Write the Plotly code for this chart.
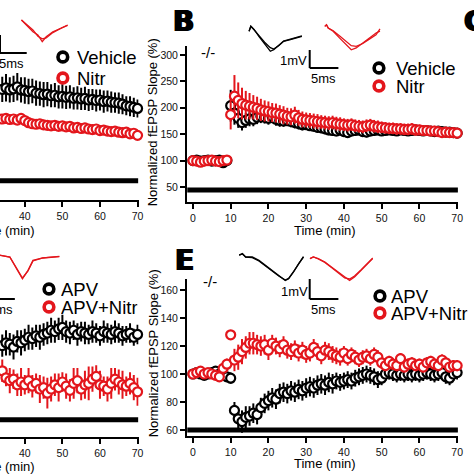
import plotly.graph_objects as go

W = H = 474
FONT = "Liberation Sans, Arial, Helvetica, sans-serif"
RED = "#e3161c"
BLK = "#000000"

# ---------------- data ----------------
time_BE = list(range(0, 71))          # min, panels B and E
time_AD = list(range(33, 71))         # min, visible part of panels A and D

# Panel B (-/-): Vehicle vs Nitr
B_vehicle = [100, 101, 99, 100, 101, 99, 100, 101, 96, 100,
             204, 190, 180, 172, 176, 179, 178, 182, 184, 182,
             180, 183, 178, 176, 175, 176, 174, 172, 170, 168,
             168, 166, 165, 163, 162, 160, 158, 157, 156, 158,
             155, 153, 156, 157, 158, 155, 154, 156, 157, 158,
             156, 157, 158, 157, 156, 158, 157, 156, 157, 158,
             157, 156, 157, 156, 155, 156, 155, 154, 154, 153, 152]
B_vehicle_err = [3, 3, 4, 3, 3, 4, 3, 3, 5, 4,
                 30, 22, 18, 15, 14, 14, 13, 13, 13, 12,
                 12, 12, 12, 12, 11, 11, 11, 11, 11, 11,
                 10, 10, 10, 10, 10, 10, 10, 10, 10, 10,
                 10, 10, 10, 10, 10, 10, 10, 10, 10, 10,
                 9, 9, 9, 9, 9, 9, 9, 9, 9, 9,
                 9, 9, 9, 9, 9, 9, 9, 9, 9, 9, 9]
B_nitr = [100, 99, 97, 99, 100, 101, 99, 98, 100, 101,
          187, 222, 214, 208, 205, 203, 201, 199, 196, 194,
          193, 191, 190, 188, 186, 184, 183, 186, 181, 178,
          177, 176, 175, 174, 173, 172, 171, 172, 170, 169,
          168, 167, 168, 166, 165, 164, 166, 167, 165, 164,
          163, 162, 161, 161, 160, 160, 159, 159, 160, 158,
          158, 157, 157, 156, 156, 155, 153, 154, 153, 153, 152]
B_nitr_err = [4, 4, 4, 4, 4, 4, 4, 4, 4, 4,
              28, 40, 34, 30, 27, 25, 23, 22, 21, 20,
              19, 18, 18, 17, 17, 16, 16, 16, 15, 15,
              14, 14, 14, 14, 13, 13, 13, 13, 13, 13,
              12, 12, 12, 12, 12, 12, 12, 12, 12, 12,
              11, 11, 11, 11, 11, 11, 11, 11, 11, 11,
              10, 10, 10, 10, 10, 10, 10, 10, 10, 10, 10]

# Panel E (-/-): APV vs APV+Nitr
E_apv = [100, 101, 100, 99, 100, 101, 102, 100, 99, 98,
         97, 74, 68, 66, 69, 70, 72, 71, 76, 79,
         81, 83, 82, 86, 87, 86, 88, 87, 89, 88,
         90, 91, 90, 92, 93, 92, 94, 93, 95, 94,
         95, 96, 95, 97, 98, 99, 100, 99, 98, 96,
         97, 100, 101, 100, 99, 100, 99, 100, 99, 100,
         99, 100, 101, 100, 99, 100, 101, 98, 97, 100, 101]
E_apv_err = [2, 2, 2, 2, 2, 2, 3, 2, 3, 3,
             4, 6, 7, 8, 8, 7, 7, 7, 7, 7,
             7, 7, 7, 7, 7, 7, 7, 7, 7, 7,
             7, 7, 7, 7, 7, 7, 7, 7, 6, 6,
             6, 6, 6, 6, 6, 6, 6, 6, 6, 6,
             5, 5, 5, 5, 5, 5, 5, 5, 5, 5,
             5, 5, 5, 5, 5, 5, 5, 5, 5, 5, 5]
E_apv_nitr = [100, 101, 102, 100, 101, 100, 99, 98, 104, 107,
              128, 110, 112, 116, 119, 122, 122, 121, 120, 121,
              117, 122, 120, 118, 121, 117, 116, 118, 115, 117,
              114, 115, 119, 116, 113, 117, 116, 114, 113, 112,
              115, 111, 114, 112, 110, 112, 113, 111, 114, 112,
              108, 106, 109, 107, 106, 111, 105, 107, 108, 106,
              107, 105, 108, 109, 107, 106, 110, 108, 105, 106, 106]
E_apv_nitr_err = [2, 2, 2, 2, 2, 2, 2, 2, 3, 4,
                  3, 8, 9, 9, 8, 8, 8, 7, 7, 7,
                  7, 6, 6, 6, 6, 6, 6, 6, 6, 6,
                  6, 6, 6, 6, 6, 6, 6, 6, 6, 6,
                  5, 5, 5, 5, 5, 5, 5, 5, 5, 5,
                  4, 4, 4, 4, 4, 4, 4, 4, 4, 4,
                  4, 4, 4, 4, 4, 4, 4, 4, 4, 4, 4]

# Panel A (visible part): Vehicle vs Nitr
A_vehicle = [233, 231, 234, 230, 232, 236, 230, 229, 227, 228,
             224, 223, 221, 222, 219, 220, 217, 218, 216, 217,
             214, 215, 213, 214, 211, 212, 210, 211, 208, 209,
             207, 206, 205, 203, 200, 199, 197, 195]
A_vehicle_err = [25, 24, 26, 24, 25, 26, 24, 25, 24, 23,
                 24, 23, 24, 23, 22, 23, 22, 23, 22, 22,
                 21, 22, 21, 22, 21, 20, 21, 20, 21, 20,
                 20, 19, 20, 19, 18, 19, 18, 17]
A_nitr = [177, 175, 176, 174, 175, 173, 176, 172, 168, 166,
          165, 166, 164, 163, 162, 163, 161, 162, 160, 161,
          158, 159, 157, 158, 156, 155, 156, 153, 154, 152,
          151, 152, 150, 149, 150, 147, 148, 144]
A_nitr_err = [6, 5, 6, 5, 6, 5, 7, 6, 5, 6,
              5, 5, 6, 5, 5, 6, 5, 5, 6, 5,
              5, 6, 5, 5, 6, 5, 5, 6, 5, 5,
              6, 5, 5, 6, 5, 5, 6, 6]

# Panel D (visible part): APV vs APV+Nitr
D_apv = [119, 121, 123, 122, 120, 124, 123, 125, 127, 126,
         128, 127, 129, 130, 132, 131, 133, 134, 131, 130,
         132, 129, 131, 130, 129, 131, 130, 128, 131, 130,
         129, 131, 130, 128, 129, 130, 127, 129]
D_apv_err = [9, 8, 9, 8, 9, 8, 9, 8, 9, 8,
             8, 9, 8, 8, 9, 8, 8, 9, 8, 8,
             7, 8, 7, 8, 7, 8, 7, 7, 8, 7,
             7, 8, 7, 7, 6, 7, 6, 7]
D_apv_nitr = [100, 103, 98, 96, 97, 93, 95, 93, 96, 92,
              94, 90, 91, 87, 90, 93, 91, 95, 92, 89,
              94, 96, 90, 93, 94, 97, 99, 93, 92, 90,
              94, 97, 95, 93, 92, 94, 91, 88]
D_apv_nitr_err = [7, 8, 6, 9, 7, 8, 10, 7, 9, 8,
                  7, 10, 8, 11, 9, 8, 10, 7, 9, 8,
                  11, 9, 8, 10, 12, 9, 8, 10, 7, 9,
                  11, 8, 9, 10, 7, 8, 9, 10]

# black drug-application bars (time span, level)
bar_time_BE = [-1.5, 70.2]
bar_time_AD = [33.0, 70.2]
bar_level_A, bar_level_B = 58, 44.5
bar_level_D, bar_level_E = 68, 60

# sample fEPSP waveforms (ms, mV)
wave_t_Bveh = [0.3, 0.6, 0.9, 1.2, 2.0, 3.0, 4.0, 4.6, 5.5, 6.3, 7.5, 8.6, 9.5]
wave_Bveh_pre = [-0.07, 0.21, 0.11, 0.02, -0.35, -0.75, -1.18, -1.09, -0.82, -0.63, -0.54, -0.44, -0.35]
wave_Bveh_post = [-0.07, 0.21, 0.11, -0.02, -0.30, -0.68, -0.98, -1.06, -0.86, -0.62, -0.50, -0.42, -0.33]
wave_t_Bnitr = [0.05, 0.34, 0.64, 1.5, 2.64, 3.79, 4.66, 5.52, 6.67, 7.81, 8.97, 9.66]
wave_Bnitr_pre = [0.09, 0.18, 0.0, -0.18, -0.56, -0.93, -1.21, -1.11, -0.83, -0.56, -0.28, -0.17]
wave_Bnitr_post = [0.09, 0.18, 0.0, -0.15, -0.45, -0.76, -0.98, -1.02, -0.86, -0.62, -0.38, -0.05]
wave_t_Eapv = [0.12, 0.69, 1.26, 2.41, 3.57, 4.71, 5.86, 7.02, 8.16, 8.74, 9.6, 10.47, 11.33]
wave_Eapv_pre = [0.04, 0.12, -0.05, -0.05, -0.22, -0.47, -0.72, -0.97, -1.22, -1.14, -0.8, -0.39, -0.05]
wave_Eapv_post = [0.04, 0.10, -0.06, -0.08, -0.25, -0.50, -0.74, -1.00, -1.20, -1.12, -0.78, -0.37, -0.03]
wave_t_Enitr = [0.05, 0.64, 1.5, 2.64, 3.79, 4.95, 6.09, 6.95, 7.81, 8.97, 10.12, 10.98]
wave_Enitr_pre = [-0.03, 0.05, -0.03, -0.2, -0.45, -0.7, -0.95, -1.12, -0.95, -0.62, -0.28, -0.03]
wave_Enitr_post = [-0.03, 0.05, -0.05, -0.22, -0.48, -0.74, -1.0, -1.05, -0.9, -0.58, -0.25, 0.0]
wave_t_Anitr = [0.12, 0.98, 2.12, 2.98, 3.74, 4.43, 5.59, 7.03, 8.16]
wave_Anitr_pre = [0.0, -0.28, -0.65, -0.83, -1.2, -0.93, -0.65, -0.46, -0.28]
wave_Anitr_post = [0.0, -0.25, -0.55, -0.9, -1.05, -1.0, -0.7, -0.45, -0.3]
wave_t_Dnitr = [0, 1.21, 2.07, 3.79, 4.95, 5.98, 6.95, 7.81, 9.53, 11.26, 12.41]
wave_Dnitr_pre = [0, -0.05, 0.04, -0.05, -0.64, -1.14, -0.72, -0.22, -0.09, -0.05, -0.02]
wave_Dnitr_post = [0, -0.04, 0.03, -0.06, -0.60, -1.10, -0.75, -0.25, -0.10, -0.06, -0.03]

legend_AB = ["Vehicle", "Nitr"]
legend_DE = ["APV", "APV+Nitr"]
y_title = "Normalized fEPSP Slope (%)"
x_title = "Time (min)"


# ---------------- helpers ----------------
def fx(px):
    return px / W


def fy(py):
    return 1 - py / H


fig = go.Figure()


def add_series(t, y, err, color, ax):
    xa, ya = ax
    fig.add_trace(go.Scatter(
        x=t, y=y, mode="markers", xaxis=xa, yaxis=ya, cliponaxis=False, showlegend=False,
        error_y=dict(type="data", array=err, visible=True, color=color, thickness=2, width=0),
        marker=dict(symbol="circle", size=9, color="white", line=dict(color=color, width=2.2))))


def add_bar(t, level, ax):
    xa, ya = ax
    fig.add_trace(go.Scatter(x=t, y=[level, level], mode="lines", xaxis=xa, yaxis=ya,
                             cliponaxis=False, showlegend=False,
                             line=dict(color=BLK, width=5)))


def add_wave(t, vals, color, ax):
    xa, ya = ax
    for v in vals:
        fig.add_trace(go.Scatter(x=t, y=v, mode="lines", xaxis=xa, yaxis=ya, cliponaxis=False,
                                 showlegend=False, line=dict(color=color, width=1.3)))


# main panels: B (x,y), E (x2,y2), A (x3,y3), D (x4,y4)
add_bar(bar_time_BE, bar_level_B, ("x", "y"))
add_series(time_BE, B_vehicle, B_vehicle_err, BLK, ("x", "y"))
add_series(time_BE, B_nitr, B_nitr_err, RED, ("x", "y"))

add_bar(bar_time_BE, bar_level_E, ("x2", "y2"))
add_series(time_BE, E_apv, E_apv_err, BLK, ("x2", "y2"))
add_series(time_BE, E_apv_nitr, E_apv_nitr_err, RED, ("x2", "y2"))

add_bar(bar_time_AD, bar_level_A, ("x3", "y3"))
add_series(time_AD, A_vehicle, A_vehicle_err, BLK, ("x3", "y3"))
add_series(time_AD, A_nitr, A_nitr_err, RED, ("x3", "y3"))

add_bar(bar_time_AD, bar_level_D, ("x4", "y4"))
add_series(time_AD, D_apv, D_apv_err, BLK, ("x4", "y4"))
add_series(time_AD, D_apv_nitr, D_apv_nitr_err, RED, ("x4", "y4"))

# insets
add_wave(wave_t_Bveh, [wave_Bveh_pre, wave_Bveh_post], BLK, ("x5", "y5"))
add_wave(wave_t_Bnitr, [wave_Bnitr_pre, wave_Bnitr_post], RED, ("x6", "y6"))
add_wave(wave_t_Eapv, [wave_Eapv_pre, wave_Eapv_post], BLK, ("x7", "y7"))
add_wave(wave_t_Enitr, [wave_Enitr_pre, wave_Enitr_post], RED, ("x8", "y8"))
add_wave(wave_t_Anitr, [wave_Anitr_pre, wave_Anitr_post], RED, ("x9", "y9"))
add_wave(wave_t_Dnitr, [wave_Dnitr_pre, wave_Dnitr_post], RED, ("x10", "y10"))

tickfont = dict(size=10.5, family=FONT, color="#111")


def xaxis(dom_px, rng, anchor):
    return dict(domain=[fx(dom_px[0]), fx(dom_px[1])], range=rng, anchor=anchor,
                showline=True, linecolor=BLK, linewidth=2, ticks="outside", ticklen=5,
                tickwidth=1.6, tickcolor=BLK, tick0=0, dtick=10, showgrid=False,
                zeroline=False, tickfont=tickfont)


def yaxis(dom_px, rng, anchor, dtick, visible=True):
    return dict(domain=[fy(dom_px[1]), fy(dom_px[0])], range=rng, anchor=anchor,
                visible=visible, showline=True, linecolor=BLK, linewidth=2, ticks="outside",
                ticklen=5, tickwidth=1.6, tickcolor=BLK, tick0=0, dtick=dtick, showgrid=False,
                zeroline=False, tickfont=tickfont)


def inset(box, x0, sx, y0, sy, anchor):
    l, r, t, b = box
    xa = dict(domain=[fx(l), fx(r)], range=[(l - x0) / sx, (r - x0) / sx], visible=False,
              anchor=anchor[1])
    ya = dict(domain=[fy(b), fy(t)], range=[-(b - y0) / sy, (y0 - t) / sy], visible=False,
              anchor=anchor[0])
    return xa, ya


layout = dict(
    width=W, height=H, margin=dict(l=0, r=0, t=0, b=0),
    paper_bgcolor="white", plot_bgcolor="rgba(0,0,0,0)",
    font=dict(family=FONT, color=BLK),
    xaxis=xaxis((189, 463), [-1.57, 70.26], "y"),
    yaxis=yaxis((46, 202), [21.6, 317], "x", 50),
    xaxis2=xaxis((189, 463), [-1.57, 70.26], "y2"),
    yaxis2=yaxis((279, 436), [55.7, 167.9], "x2", 20),
    xaxis3=xaxis((0, 140), [33.4, 70.26], "y3"),
    yaxis3=yaxis((44, 200), [21.6, 317], "x3", 50, visible=False),
    xaxis4=xaxis((0, 140), [33.4, 70.26], "y4"),
    yaxis4=yaxis((280, 437), [55.7, 167.9], "x4", 20, visible=False),
)
insets = {
    5: inset((246, 312, 18, 60), 250, 5.8, 30, 18, ("x5", "y5")),
    6: inset((324, 392, 16, 58), 328, 5.8, 28, 18, ("x6", "y6")),
    7: inset((236, 312, 246, 290), 241, 5.8, 256, 20, ("x7", "y7")),
    8: inset((310, 382, 248, 290), 313, 5.8, 258, 20, ("x8", "y8")),
    9: inset((16, 74, 12, 50), 21, 5.8, 20, 18, ("x9", "y9")),
    10: inset((0, 66, 246, 290), -12, 5.8, 256, 20, ("x10", "y10")),
}
for k, (xa, ya) in insets.items():
    layout[f"xaxis{k}"] = xa
    layout[f"yaxis{k}"] = ya

ann = []


def text(s, px, py, size, xanchor="center", yanchor="middle", angle=0, color=BLK, family=FONT,
         height=None, **fk):
    a = dict(text=s, x=fx(px), y=fy(py), xref="paper", yref="paper", showarrow=False,
             xanchor=xanchor, yanchor=yanchor, textangle=angle,
             font=dict(size=size, family=family, color=color, **fk))
    if height is not None:
        a["height"] = height
        a["borderpad"] = 0
    ann.append(a)


# axis titles
text(y_title, 155, 122, 13, angle=-90)
text(y_title, 155, 353, 13, angle=-90)
text(x_title, 328, 231, 13)
text(x_title, 328, 463, 13)
text(x_title, 4, 230, 13)
text(x_title, 4, 466, 13)

# panel letters
LETTER_FONT = "DejaVu Sans, Liberation Sans, sans-serif"
shadow = "1px 0 0 #000, 2px 0 0 #000"
text("<b>B</b>", 172, 22, 28, xanchor="left", family=LETTER_FONT, shadow=shadow)
text("<b>E</b>", 174, 260, 28, xanchor="left", family=LETTER_FONT, shadow=shadow)
text("<b>C</b>", 466, 22, 28, xanchor="left", family=LETTER_FONT, shadow=shadow)

# genotype labels
text("-/-", 210, 53, 15)
text("-/-", 212, 281, 15)

# scale bar labels
text("1mV", 312, 61, 13, xanchor="right")
text("5ms", 327, 78, 13)
text("1mV", 313, 291, 13, xanchor="right")
text("5ms", 327, 309, 13)
text("5ms", 12, 63, 13)
text("5ms", 0, 309, 13)

# legends (marker circle + label)
shapes = []


def legend(labels, cx, cys, tx):
    for lab, cy, col in zip(labels, cys, (BLK, RED)):
        r = 4.9
        shapes.append(dict(type="circle", xref="paper", yref="paper",
                           x0=fx(cx - r), x1=fx(cx + r), y0=fy(cy + r), y1=fy(cy - r),
                           line=dict(color=col, width=3.6), fillcolor="white"))
        text(lab, tx, cy, 18.5, xanchor="left", height=16)


legend(legend_AB, 63.5, (57, 78), 77)
legend(legend_AB, 383, (68, 86), 399)
legend(legend_DE, 384, (296, 313), 394)
legend(legend_DE, 49.5, (289, 307), 61)


def line(x0, y0, x1, y1, w=2):
    shapes.append(dict(type="line", xref="paper", yref="paper", x0=fx(x0), y0=fy(y0),
                       x1=fx(x1), y1=fy(y1), line=dict(color=BLK, width=w)))


# scale bars
line(313, 50, 313, 68)
line(313, 68, 342, 68)
line(313, 279, 313, 299)
line(313, 299, 342, 299)
line(0, 35, 0, 53)
line(-2, 53, 27, 53)
line(-14, 299, 15, 299)

layout["annotations"] = ann
layout["shapes"] = shapes
fig.update_layout(**layout)
fig.write_html("out.html", config={"displayModeBar": False},
               post_script="document.body.style.margin='0px';document.body.style.overflow='hidden';")
